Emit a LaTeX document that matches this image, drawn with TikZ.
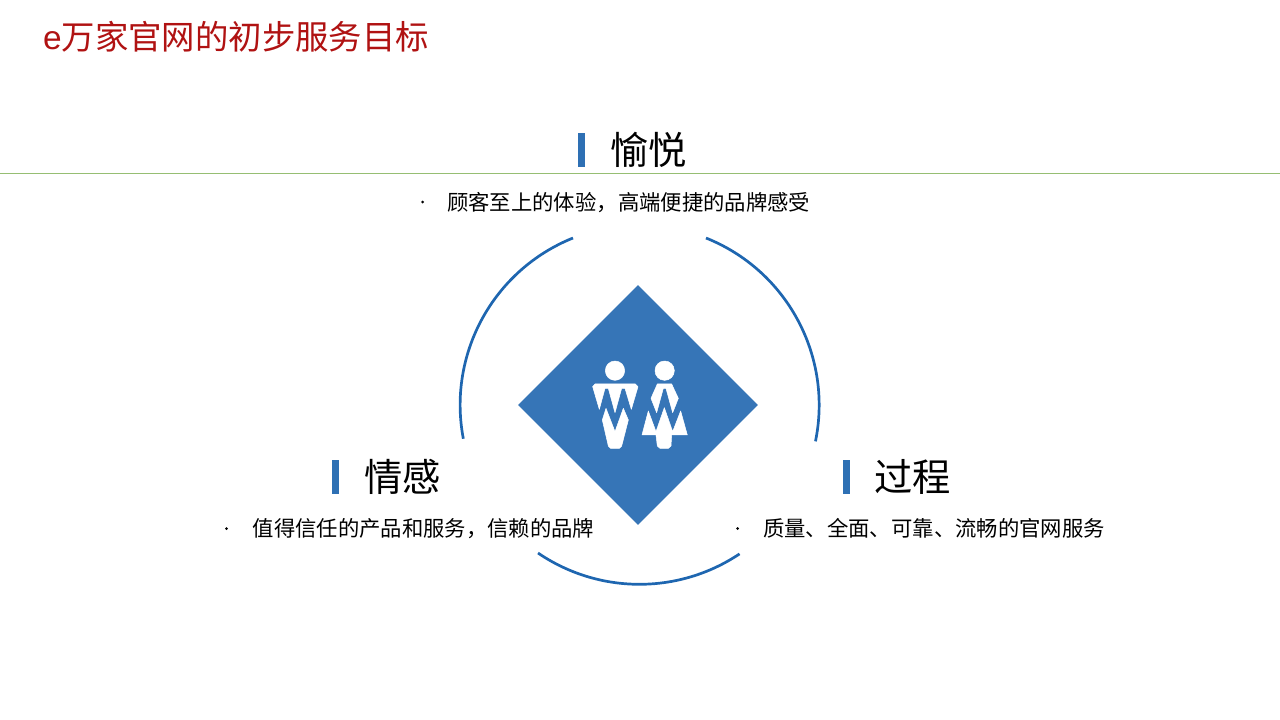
\documentclass[tikz,border=0pt]{standalone}
\usepackage{fontspec}
\setmainfont{Liberation Sans}
\newfontfamily\cjk{Noto Sans CJK SC}
\usetikzlibrary{shapes.geometric}
\definecolor{titlered}{RGB}{176,18,18}
\definecolor{diamondblue}{RGB}{54,117,183}
\definecolor{arcblue}{RGB}{30,102,176}
\definecolor{barblue}{RGB}{46,112,180}
\definecolor{rulegreen}{RGB}{150,190,115}

\begin{document}
\begin{tikzpicture}[x=1pt,y=-1pt,
        head node/.style={anchor=west,inner sep=0pt,font=\cjk\fontsize{38.3}{40}\selectfont},
        body node/.style={anchor=west,inner sep=0pt,font=\cjk\fontsize{21.35}{24}\selectfont},
        dot node/.style={circle,fill=black,inner sep=0pt,minimum size=3pt},
        bar node/.style={draw=none,fill=barblue,inner sep=0pt,minimum width=7pt,minimum height=34pt},
        ring/.style={draw=arcblue,line width=2.7pt}]
        \useasboundingbox (0,0) rectangle (1280,720);

        % title and rule
        \node[anchor=west,inner sep=0pt,text=titlered,font=\fontsize{33.4}{36}\selectfont] (T1) at (43,37) {e{\cjk 万家官网的初步服务目标}};
        \coordinate (R1) at (0,173.5);
        \coordinate (R2) at (1280,173.5);
        \draw[rulegreen,line width=0.9pt] (R1) -- (R2);

        % arcs
        \coordinate (C1) at (639.5,404);
        \draw[ring] (573,238) arc[start angle=248.1,end angle=169.2,radius=180];
        \draw[ring] (706,238) arc[start angle=291.8,end angle=371.6,radius=180];
        \draw[ring] (538,553) arc[start angle=124.3,end angle=56.2,radius=180];

        % diamond
        \node[diamond,fill=diamondblue,aspect=1,inner sep=0pt,minimum width=240pt,minimum height=240pt] (D1) at (638,405) {};

        % people
        \begin{scope}[shift={(570,340)},x=0.3333pt,y=-0.3333pt]
          \tikzset{every path/.style={fill=white,draw=white,line width=0.5pt,line join=round}}
          \path (135,92) circle (29);
          \path (284,92) circle (29);
          \path (75,132) -- (196,132) -- (204,140) -- (184,208) -- (165,145) -- (155,145) -- (135,218) -- (115,145) -- (105,145) -- (88,208) -- (68,140) -- cycle;
          \path (97,240) -- (108,205) -- (135,275) -- (160,205) -- (175,240) -- (155,318) -- (148,325) -- (122,325) -- (115,318) -- cycle;
          \path (262,132) -- (305,132) -- (325,175) -- (308,218) -- (288,145) -- (280,145) -- (260,218) -- (243,175) -- cycle;
          \path (235,213) -- (258,275) -- (283,203) -- (308,275) -- (332,213) -- (352,285) -- (305,285) -- (303,318) -- (295,325) -- (270,325) -- (262,318) -- (258,285) -- (216,285) -- cycle;
        \end{scope}

        % top group
        \node[bar node] (B1) at (581.5,150) {};
        \node[head node] (H1) at (610,150) {愉悦};
        \node[dot node] (P1) at (422.5,202) {};
        \node[body node] (L1) at (447,202.5) {顾客至上的体验，高端便捷的品牌感受};

        % left group
        \node[bar node] (B2) at (335.5,477) {};
        \node[head node] (H2) at (364,477) {情感};
        \node[dot node] (P2) at (226.5,528.5) {};
        \node[body node] (L2) at (252.5,528.5) {值得信任的产品和服务，信赖的品牌};

        % right group
        \node[bar node] (B3) at (846.5,477) {};
        \node[head node] (H3) at (874,477) {过程};
        \node[dot node] (P3) at (737.5,528.5) {};
        \node[body node] (L3) at (763,528.5) {质量、全面、可靠、流畅的官网服务};
      \end{tikzpicture}
\end{document}
